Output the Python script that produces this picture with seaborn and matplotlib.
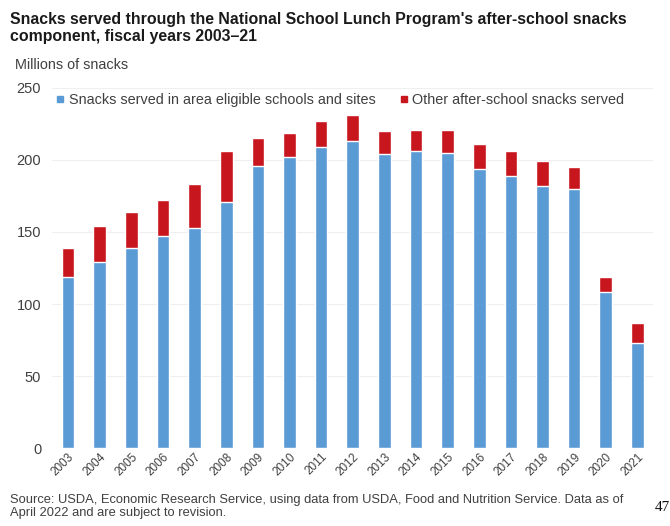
import matplotlib
matplotlib.use("Agg")
import matplotlib.pyplot as plt
from matplotlib.lines import Line2D
import seaborn as sns
import pandas as pd

years = ["2003", "2004", "2005", "2006", "2007", "2008", "2009", "2010", "2011", "2012",
         "2013", "2014", "2015", "2016", "2017", "2018", "2019", "2020", "2021"]
area_eligible = [119, 129, 139, 147, 153, 171, 196, 202, 209, 213,
                 204, 206, 205, 194, 189, 182, 180, 108, 73]
other_snacks = [20, 25, 25, 25, 30, 35, 19, 17, 18, 18,
                16, 15, 16, 17, 17, 17, 15, 11, 14]

blue = "#5B9BD5"
red = "#C8161E"
text_col = "#404040"

df = pd.DataFrame({"year": years, "area": area_eligible, "other": other_snacks})
df["total"] = df["area"] + df["other"]

sns.set_theme(style="white")
plt.rcParams["font.family"] = ["Liberation Sans", "DejaVu Sans"]

fig = plt.figure(figsize=(6.7, 5.26), dpi=100)
ax = fig.add_axes([0.078, 0.148, 0.897, 0.685])

# stacked bars: total in red, eligible-area share in blue on top of it
sns.barplot(data=df, x="year", y="total", color=red, width=0.4, saturation=1, ax=ax)
sns.barplot(data=df, x="year", y="area", color=blue, width=0.4, saturation=1, ax=ax)

ax.set_ylim(0, 250)
ax.set_xlim(-0.5, len(years) - 0.5)
ax.set_yticks([0, 50, 100, 150, 200, 250])
ax.yaxis.grid(True, color="#efefef", linewidth=0.8)
ax.set_axisbelow(True)
for s in ax.spines.values():
    s.set_visible(False)
ax.set_xlabel("")
ax.set_ylabel("")
ax.tick_params(axis="y", labelsize=10.5, labelcolor=text_col, length=0, pad=8)
ax.tick_params(axis="x", labelsize=8.5, labelcolor=text_col, length=0, pad=2)
for lbl in ax.get_xticklabels():
    lbl.set_rotation(45)
    lbl.set_ha("right")
    lbl.set_rotation_mode("anchor")

handles = [
    Line2D([], [], marker="s", linestyle="none", markersize=4.5, color=blue,
           label="Snacks served in area eligible schools and sites"),
    Line2D([], [], marker="s", linestyle="none", markersize=4.5, color=red,
           label="Other after-school snacks served"),
]
ax.legend(handles=handles, loc="center left", bbox_to_anchor=(-0.005, 0.965), ncol=2,
          frameon=False, fontsize=10.4, handlelength=0.7, handletextpad=0.25,
          columnspacing=1.6, labelcolor=text_col, borderaxespad=0.0)

fig.text(0.015, 0.977, "Snacks served through the National School Lunch Program's after-school snacks\ncomponent, fiscal years 2003\u201321",
         fontsize=11.4, fontweight="bold", color="#1a1a1a", va="top", ha="left", linespacing=1.2)
fig.text(0.022, 0.876, "Millions of snacks", fontsize=10.4, color=text_col, va="center", ha="left")
fig.text(0.015, 0.037, "Source: USDA, Economic Research Service, using data from USDA, Food and Nutrition Service. Data as of\nApril 2022 and are subject to revision.",
         fontsize=9.3, color=text_col, va="center", ha="left", linespacing=1.12)
fig.text(0.977, 0.036, "47", fontsize=11, color="#111111", va="center", ha="left",
         family=["Liberation Serif", "DejaVu Serif"])

fig.savefig("out.png", dpi=100)
